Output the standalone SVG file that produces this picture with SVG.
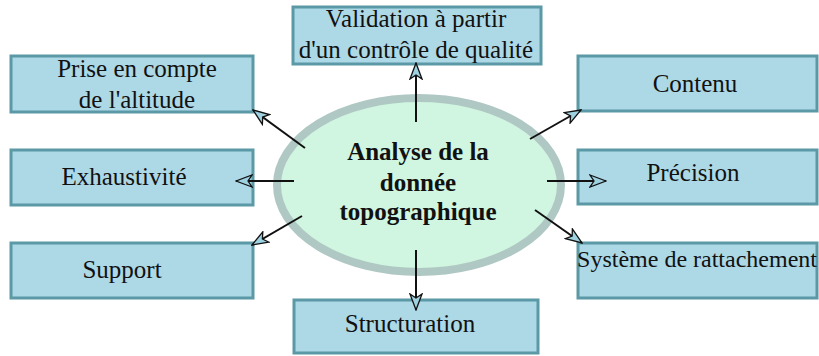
<svg xmlns="http://www.w3.org/2000/svg" width="819" height="356" viewBox="0 0 819 356">
<defs>
<style>
.box{fill:#add8e6;stroke:#5b99a6;stroke-width:3}
text{font-family:'Liberation Serif','Times New Roman',Times,serif;font-size:25px;fill:#111;text-anchor:middle}
.c{font-weight:bold}
.ln{stroke:#111;stroke-width:2;fill:none;marker-end:url(#ah)}
</style>
<marker id="ah" viewBox="0 0 18 14" refX="17" refY="7" markerWidth="18" markerHeight="14" markerUnits="userSpaceOnUse" orient="auto">
<path d="M1,1 L17,7 L1,13 L5,7 Z" fill="#9fd2e0" stroke="#111" stroke-width="1.3"/>
</marker>
</defs>
<rect width="819" height="356" fill="#fff"/>
<g id="center">
<ellipse cx="419" cy="185" rx="142" ry="87" fill="#d0f5e0" stroke="#b0c8c3" stroke-width="8"/>
<text class="c" x="418" y="160">Analyse de la</text>
<text class="c" x="418" y="191">donnée</text>
<text class="c" x="418" y="220">topographique</text>
</g>
<g id="n-prise">
<rect class="box" x="11" y="56" width="242" height="56"/>
<text x="137" y="77">Prise en compte</text>
<text x="137" y="108">de l'altitude</text>
</g>
<g id="n-validation">
<rect class="box" x="293" y="7" width="248" height="57"/>
<text x="416" y="27">Validation à partir</text>
<text x="416" y="58">d'un contrôle de qualité</text>
</g>
<g id="n-contenu">
<rect class="box" x="578" y="56" width="239" height="55"/>
<text x="695" y="92">Contenu</text>
</g>
<g id="n-exhaustivite">
<rect class="box" x="11" y="150" width="242" height="55"/>
<text x="124" y="185">Exhaustivité</text>
</g>
<g id="n-precision">
<rect class="box" x="578" y="150" width="239" height="54"/>
<text x="693" y="181">Précision</text>
</g>
<g id="n-support">
<rect class="box" x="11" y="243" width="242" height="55"/>
<text x="122" y="278">Support</text>
</g>
<g id="n-systeme">
<rect class="box" x="578" y="243" width="239" height="55"/>
<text x="697" y="267" style="font-size:24px">Système de rattachement</text>
</g>
<g id="n-structuration">
<rect class="box" x="294" y="300" width="244" height="53"/>
<text x="410" y="332">Structuration</text>
</g>
<g id="connectors">
<line class="ln" x1="416" y1="122" x2="416" y2="63"/>
<line class="ln" x1="305" y1="148" x2="253" y2="110"/>
<line class="ln" x1="294" y1="181" x2="236" y2="181"/>
<line class="ln" x1="302" y1="216" x2="252" y2="245"/>
<line class="ln" x1="416" y1="250" x2="416" y2="310"/>
<line class="ln" x1="530" y1="139" x2="581" y2="110"/>
<line class="ln" x1="547" y1="181" x2="606" y2="181"/>
<line class="ln" x1="535" y1="210" x2="582" y2="243"/>
</g>
</svg>
